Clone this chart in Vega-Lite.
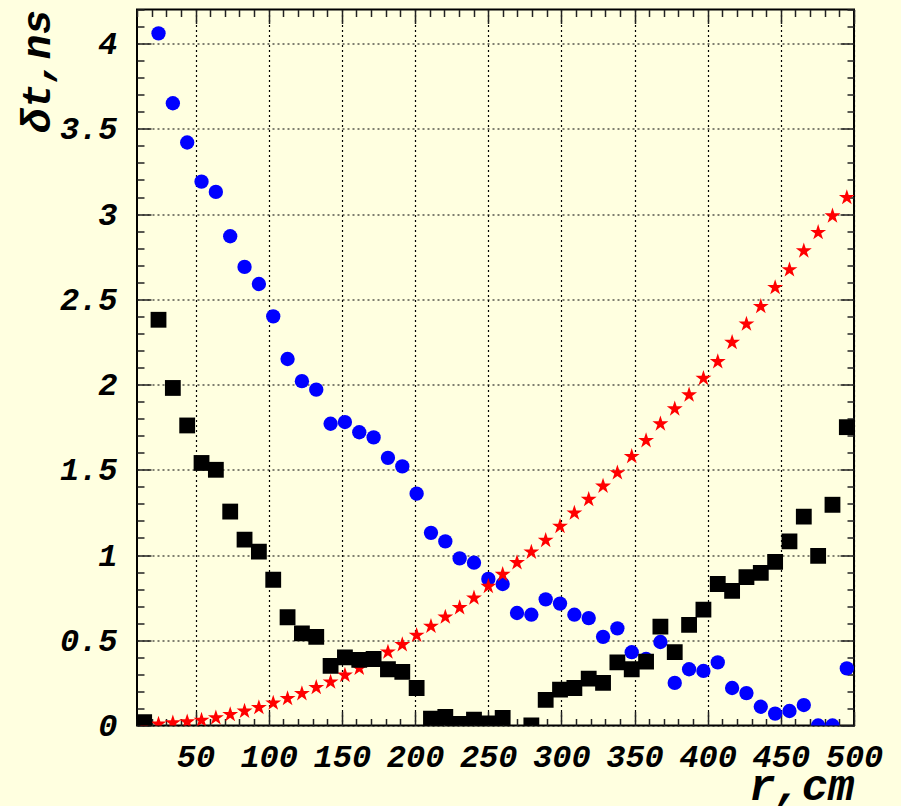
{
  "$schema": "https://vega.github.io/schema/vega-lite/v6.json",
  "width": 717,
  "height": 716,
  "autosize": {"type": "none"},
  "padding": {"left": 137, "top": 9.5, "right": 47, "bottom": 80.5},
  "background": "#ffffe0",
  "config": {
    "view": {"stroke": "#000000", "strokeWidth": 2, "fill": "#ffffe0"},
    "axis": {
      "domain": false,
      "tickColor": "#222222",
      "tickWidth": 1.5,
      "gridColor": "#000000",
      "gridDash": [2, 3],
      "gridWidth": 1.2,
      "labelFont": "Liberation Mono",
      "labelFontSize": 32,
      "labelFontStyle": "italic",
      "labelFontWeight": "bold",
      "labelColor": "#000000",
      "labelFlush": false,
      "labelOverlap": false,
      "labelBound": false,
      "titleFont": "Liberation Mono",
      "titleFontSize": 44,
      "titleFontStyle": "italic",
      "titleFontWeight": "bold",
      "titleColor": "#000000"
    }
  },
  "datasets": {
    "circles": [
      {"r": 24.7, "dt": 4.06}, {"r": 34.5, "dt": 3.65}, {"r": 44.3, "dt": 3.42}, {"r": 54.1, "dt": 3.19},
      {"r": 63.9, "dt": 3.13}, {"r": 73.7, "dt": 2.87}, {"r": 83.5, "dt": 2.69}, {"r": 93.3, "dt": 2.59},
      {"r": 103.1, "dt": 2.40}, {"r": 112.9, "dt": 2.15}, {"r": 122.7, "dt": 2.02}, {"r": 132.5, "dt": 1.97},
      {"r": 142.3, "dt": 1.77}, {"r": 152.1, "dt": 1.78}, {"r": 161.9, "dt": 1.72}, {"r": 171.7, "dt": 1.69},
      {"r": 181.5, "dt": 1.57}, {"r": 191.3, "dt": 1.52}, {"r": 201.1, "dt": 1.36}, {"r": 210.9, "dt": 1.13},
      {"r": 220.7, "dt": 1.08}, {"r": 230.5, "dt": 0.98}, {"r": 240.3, "dt": 0.955}, {"r": 250.1, "dt": 0.86},
      {"r": 259.9, "dt": 0.83}, {"r": 269.7, "dt": 0.66}, {"r": 279.5, "dt": 0.65}, {"r": 289.3, "dt": 0.74},
      {"r": 299.1, "dt": 0.715}, {"r": 308.9, "dt": 0.65}, {"r": 318.7, "dt": 0.63}, {"r": 328.5, "dt": 0.52},
      {"r": 338.3, "dt": 0.57}, {"r": 348.1, "dt": 0.43}, {"r": 357.9, "dt": 0.39}, {"r": 367.7, "dt": 0.49},
      {"r": 377.5, "dt": 0.25}, {"r": 387.3, "dt": 0.33}, {"r": 397.1, "dt": 0.32}, {"r": 406.9, "dt": 0.37},
      {"r": 416.7, "dt": 0.22}, {"r": 426.5, "dt": 0.19}, {"r": 436.3, "dt": 0.11}, {"r": 446.1, "dt": 0.07},
      {"r": 455.9, "dt": 0.085}, {"r": 465.7, "dt": 0.12}, {"r": 475.5, "dt": 0.0}, {"r": 485.3, "dt": 0.0},
      {"r": 495.1, "dt": 0.335}
    ],
    "squares": [
      {"r": 14.9, "dt": 0.02}, {"r": 24.7, "dt": 2.38}, {"r": 34.5, "dt": 1.98}, {"r": 44.3, "dt": 1.76},
      {"r": 54.1, "dt": 1.54}, {"r": 63.9, "dt": 1.50}, {"r": 73.7, "dt": 1.255}, {"r": 83.5, "dt": 1.09},
      {"r": 93.3, "dt": 1.02}, {"r": 103.1, "dt": 0.855}, {"r": 112.9, "dt": 0.635}, {"r": 122.7, "dt": 0.54},
      {"r": 132.5, "dt": 0.52}, {"r": 142.3, "dt": 0.35}, {"r": 152.1, "dt": 0.40}, {"r": 161.9, "dt": 0.385},
      {"r": 171.7, "dt": 0.39}, {"r": 181.5, "dt": 0.33}, {"r": 191.3, "dt": 0.315}, {"r": 201.1, "dt": 0.22},
      {"r": 210.9, "dt": 0.04}, {"r": 220.7, "dt": 0.05}, {"r": 230.5, "dt": 0.01}, {"r": 240.3, "dt": 0.035},
      {"r": 250.1, "dt": 0.012}, {"r": 259.9, "dt": 0.045}, {"r": 279.5, "dt": 0.0}, {"r": 289.3, "dt": 0.15},
      {"r": 299.1, "dt": 0.21}, {"r": 308.9, "dt": 0.22}, {"r": 318.7, "dt": 0.275}, {"r": 328.5, "dt": 0.25},
      {"r": 338.3, "dt": 0.37}, {"r": 348.1, "dt": 0.33}, {"r": 357.9, "dt": 0.375}, {"r": 367.7, "dt": 0.58},
      {"r": 377.5, "dt": 0.43}, {"r": 387.3, "dt": 0.59}, {"r": 397.1, "dt": 0.68}, {"r": 406.9, "dt": 0.83},
      {"r": 416.7, "dt": 0.79}, {"r": 426.5, "dt": 0.87}, {"r": 436.3, "dt": 0.895}, {"r": 446.1, "dt": 0.96},
      {"r": 455.9, "dt": 1.08}, {"r": 465.7, "dt": 1.225}, {"r": 475.5, "dt": 0.995}, {"r": 485.3, "dt": 1.295},
      {"r": 495.1, "dt": 1.75}
    ],
    "stars": [
      {"r": 14.9, "dt": 0.003}, {"r": 24.7, "dt": 0.008}, {"r": 34.5, "dt": 0.015}, {"r": 44.3, "dt": 0.021},
      {"r": 54.1, "dt": 0.031}, {"r": 63.9, "dt": 0.045}, {"r": 73.7, "dt": 0.064}, {"r": 83.5, "dt": 0.084},
      {"r": 93.3, "dt": 0.105}, {"r": 103.1, "dt": 0.132}, {"r": 112.9, "dt": 0.158}, {"r": 122.7, "dt": 0.187},
      {"r": 132.5, "dt": 0.223}, {"r": 142.3, "dt": 0.255}, {"r": 152.1, "dt": 0.295}, {"r": 161.9, "dt": 0.336},
      {"r": 171.7, "dt": 0.382}, {"r": 181.5, "dt": 0.431}, {"r": 191.3, "dt": 0.474}, {"r": 201.1, "dt": 0.529},
      {"r": 210.9, "dt": 0.582}, {"r": 220.7, "dt": 0.636}, {"r": 230.5, "dt": 0.691}, {"r": 240.3, "dt": 0.748},
      {"r": 250.1, "dt": 0.816}, {"r": 259.9, "dt": 0.886}, {"r": 269.7, "dt": 0.955}, {"r": 279.5, "dt": 1.017},
      {"r": 289.3, "dt": 1.086}, {"r": 299.1, "dt": 1.168}, {"r": 308.9, "dt": 1.246}, {"r": 318.7, "dt": 1.326},
      {"r": 328.5, "dt": 1.404}, {"r": 338.3, "dt": 1.482}, {"r": 348.1, "dt": 1.578}, {"r": 357.9, "dt": 1.671},
      {"r": 367.7, "dt": 1.769}, {"r": 377.5, "dt": 1.857}, {"r": 387.3, "dt": 1.939}, {"r": 397.1, "dt": 2.036},
      {"r": 406.9, "dt": 2.134}, {"r": 416.7, "dt": 2.247}, {"r": 426.5, "dt": 2.355}, {"r": 436.3, "dt": 2.458},
      {"r": 446.1, "dt": 2.569}, {"r": 455.9, "dt": 2.673}, {"r": 465.7, "dt": 2.784}, {"r": 475.5, "dt": 2.892},
      {"r": 485.3, "dt": 2.989}, {"r": 495.1, "dt": 3.097}
    ]
  },
  "layer": [
    {
      "data": {"name": "circles"},
      "mark": {"type": "circle", "color": "#0000ff", "size": 205, "opacity": 1, "clip": true},
      "encoding": {
        "x": {
          "field": "r", "type": "quantitative",
          "scale": {"domain": [10, 500], "nice": false, "zero": false},
          "axis": {
            "orient": "bottom",
            "values": [10,20,30,40,50,60,70,80,90,100,110,120,130,140,150,160,170,180,190,200,210,220,230,240,250,260,270,280,290,300,310,320,330,340,350,360,370,380,390,400,410,420,430,440,450,460,470,480,490,500],
            "tickSize": {"condition": {"test": "datum.value % 50 === 0", "value": -14}, "value": -7},
            "grid": true,
            "gridOpacity": {"condition": {"test": "datum.value % 50 === 0", "value": 1}, "value": 0},
            "labelExpr": "datum.value % 50 === 0 ? toString(datum.value) : ''",
            "labelPadding": 55,
            "labelBaseline": "alphabetic",
            "title": "r,cm",
            "titleAnchor": "end",
            "titleBaseline": "alphabetic",
            "titlePadding": 20
          }
        },
        "y": {
          "field": "dt", "type": "quantitative",
          "scale": {"domain": [0, 4.2], "nice": false, "zero": false},
          "axis": {
            "orient": "left",
            "values": [0,0.1,0.2,0.3,0.4,0.5,0.6,0.7,0.8,0.9,1,1.1,1.2,1.3,1.4,1.5,1.6,1.7,1.8,1.9,2,2.1,2.2,2.3,2.4,2.5,2.6,2.7,2.8,2.9,3,3.1,3.2,3.3,3.4,3.5,3.6,3.7,3.8,3.9,4,4.1,4.2],
            "tickSize": {"condition": {"test": "abs(datum.value*2 - round(datum.value*2)) < 0.000001", "value": -14}, "value": -7},
            "grid": true,
            "gridOpacity": {"condition": {"test": "abs(datum.value*2 - round(datum.value*2)) < 0.000001", "value": 1}, "value": 0},
            "labelExpr": "abs(datum.value*2 - round(datum.value*2)) < 0.000001 ? toString(round(datum.value*2)/2) : ''",
            "labelPadding": 34,
            "labelBaseline": "middle",
            "title": "δt,ns",
            "titleFontSize": 41,
            "titleAnchor": "end",
            "titlePadding": 1
          }
        }
      }
    },
    {
      "data": {"name": "stars"},
      "mark": {"type": "point", "shape": "M0,-1L0.225,-0.309L0.951,-0.309L0.363,0.118L0.588,0.809L0,0.382L-0.588,0.809L-0.363,0.118L-0.951,-0.309L-0.225,-0.309Z", "filled": true, "color": "#ff0000", "size": 280, "opacity": 1, "clip": true},
      "encoding": {
        "x": {
          "field": "r", "type": "quantitative",
          "axis": {
            "orient": "top",
            "values": [10,20,30,40,50,60,70,80,90,100,110,120,130,140,150,160,170,180,190,200,210,220,230,240,250,260,270,280,290,300,310,320,330,340,350,360,370,380,390,400,410,420,430,440,450,460,470,480,490,500],
            "tickSize": {"condition": {"test": "datum.value % 50 === 0", "value": -14}, "value": -7},
            "labels": false,
            "grid": false,
            "title": null
          }
        },
        "y": {
          "field": "dt", "type": "quantitative",
          "axis": {
            "orient": "right",
            "values": [0,0.1,0.2,0.3,0.4,0.5,0.6,0.7,0.8,0.9,1,1.1,1.2,1.3,1.4,1.5,1.6,1.7,1.8,1.9,2,2.1,2.2,2.3,2.4,2.5,2.6,2.7,2.8,2.9,3,3.1,3.2,3.3,3.4,3.5,3.6,3.7,3.8,3.9,4,4.1,4.2],
            "tickSize": {"condition": {"test": "abs(datum.value*2 - round(datum.value*2)) < 0.000001", "value": -14}, "value": -7},
            "labels": false,
            "grid": false,
            "title": null
          }
        }
      }
    },
    {
      "data": {"name": "squares"},
      "mark": {"type": "square", "color": "#000000", "size": 250, "opacity": 1, "clip": true},
      "encoding": {
        "x": {"field": "r", "type": "quantitative", "axis": null},
        "y": {"field": "dt", "type": "quantitative", "axis": null}
      }
    }
  ],
  "resolve": {"axis": {"x": "independent", "y": "independent"}}
}
